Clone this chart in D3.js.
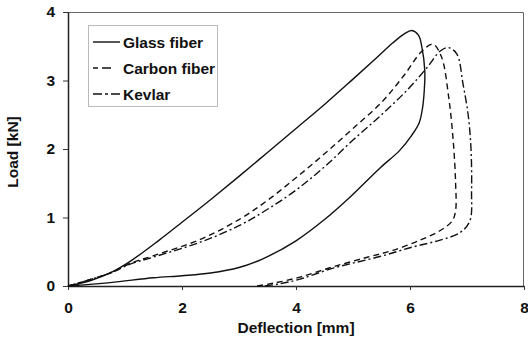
<!DOCTYPE html>
<html>
<head>
<meta charset="utf-8">
<script src="https://cdn.jsdelivr.net/npm/d3@7"></script>
<style>
	body { margin: 0; background: #fff; }
	svg text { font-family: "Liberation Sans", Arial, sans-serif; font-weight: bold; fill: #111; }
</style>
</head>
<body>
<svg id="chart" width="528" height="345"></svg>
<script>
;( function() {

	"use strict";

	//data, in mm / kN, ordered along each loop
	var glassDeflection = [ 0, 0.4, 0.74, 1.09, 1.6, 2.0, 2.5, 3.0, 3.5, 4.0, 4.5, 5.0, 5.4, 5.7, 5.9, 6.03, 6.15, 6.21, 6.26, 6.25, 6.22, 6.16, 6.03, 5.82, 5.47, 4.95, 4.5, 4.0, 3.4, 3.0, 2.5, 2.0, 1.5, 0.74, 0 ],
		glassLoad = [ 0, 0.08, 0.19, 0.36, 0.67, 0.93, 1.26, 1.6, 1.95, 2.3, 2.65, 3.02, 3.32, 3.55, 3.68, 3.73, 3.66, 3.48, 3.14, 2.85, 2.6, 2.38, 2.2, 1.98, 1.72, 1.3, 0.97, 0.66, 0.39, 0.27, 0.19, 0.15, 0.12, 0.05, 0 ];

	var carbonDeflection = [ 0, 0.74, 1.09, 1.49, 2.32, 3.0, 3.5, 4.0, 4.5, 5.0, 5.5, 5.9, 6.2, 6.4, 6.55, 6.68, 6.76, 6.8, 6.8, 6.74, 6.53, 6.18, 5.7, 5.25, 4.65, 4.07, 3.6, 3.3 ],
		carbonLoad = [ 0, 0.19, 0.33, 0.44, 0.68, 0.97, 1.25, 1.58, 1.93, 2.3, 2.68, 3.08, 3.42, 3.53, 3.35, 2.75, 2.1, 1.5, 1.1, 0.95, 0.81, 0.67, 0.52, 0.42, 0.28, 0.13, 0.04, 0 ];

	var kevlarDeflection = [ 0, 0.74, 1.09, 1.49, 2.32, 3.0, 3.5, 4.0, 4.5, 5.0, 5.5, 5.95, 6.3, 6.53, 6.67, 6.82, 6.93, 7.02, 7.07, 7.08, 7.05, 6.88, 6.53, 6.05, 5.47, 4.65, 4.07, 3.7, 3.45 ],
		kevlarLoad = [ 0, 0.19, 0.32, 0.42, 0.64, 0.88, 1.12, 1.4, 1.74, 2.13, 2.5, 2.86, 3.19, 3.43, 3.48, 3.39, 2.95, 2.5, 2.0, 1.4, 0.95, 0.78, 0.67, 0.57, 0.43, 0.26, 0.1, 0.03, 0 ];

	var seriesNames = [ "Glass fiber", "Carbon fiber", "Kevlar" ],
		xTicks = [ 0, 2, 4, 6, 8 ],
		yTicks = [ 0, 1, 2, 3, 4 ];

	var zip = function( xs, ys ) {
		return xs.map( function( d, i ) { return [ d, ys[ i ] ]; } );
	};

	var series = [
		{ name: seriesNames[ 0 ], points: zip( glassDeflection, glassLoad ), dash: null, legendDash: null },
		{ name: seriesNames[ 1 ], points: zip( carbonDeflection, carbonLoad ), dash: "6,4", legendDash: "5,4,9,9" },
		{ name: seriesNames[ 2 ], points: zip( kevlarDeflection, kevlarLoad ), dash: "8,3,2,3", legendDash: "9,3,3,3" }
	];

	var margin = { top: 12, right: 4, bottom: 59, left: 68 },
		width = 528 - margin.left - margin.right,
		height = 345 - margin.top - margin.bottom,
		fontSize = 15.5;

	var svg = d3.select( "#chart" ),
		g = svg.append( "g" ).attr( "transform", "translate(" + margin.left + "," + margin.top + ")" );

	var x = d3.scaleLinear().domain( [ 0, 8 ] ).range( [ 0, width ] ),
		y = d3.scaleLinear().domain( [ 0, 4 ] ).range( [ height, 0 ] );

	//frame top + right
	g.append( "path" )
		.attr( "d", "M0,0.5H" + ( width - 0.5 ) + "V" + height )
		.attr( "fill", "none" )
		.attr( "stroke", "#666" )
		.attr( "stroke-width", 1 );

	var xAxis = g.append( "g" )
		.attr( "transform", "translate(0," + height + ")" )
		.call( d3.axisBottom( x ).tickValues( xTicks ).tickFormat( d3.format( "d" ) ).tickSize( 4 ).tickSizeOuter( 0 ).tickPadding( 12 ) );
	var yAxis = g.append( "g" )
		.call( d3.axisLeft( y ).tickValues( yTicks ).tickFormat( d3.format( "d" ) ).tickSize( 5 ).tickSizeOuter( 0 ).tickPadding( 8 ) );

	[ xAxis, yAxis ].forEach( function( a ) {
		a.select( ".domain" ).attr( "stroke", "#222" ).attr( "stroke-width", 1.5 );
		a.selectAll( ".tick line" ).attr( "stroke", "#333" );
		a.selectAll( ".tick text" )
			.attr( "font-family", "Liberation Sans, Arial, sans-serif" )
			.attr( "font-weight", "bold" )
			.attr( "font-size", fontSize )
			.attr( "fill", "#111" );
	} );

	//curves
	var line = d3.line()
		.x( function( d ) { return x( d[ 0 ] ); } )
		.y( function( d ) { return y( d[ 1 ] ); } )
		.curve( d3.curveCatmullRom.alpha( 0.5 ) );

	g.selectAll( ".curve" )
		.data( series )
		.enter()
		.append( "path" )
			.attr( "class", "curve" )
			.attr( "d", function( d ) { return line( d.points ); } )
			.attr( "fill", "none" )
			.attr( "stroke", "#111" )
			.attr( "stroke-width", 1.4 )
			.attr( "stroke-dasharray", function( d ) { return d.dash; } );

	//axis titles
	svg.append( "text" )
		.attr( "x", margin.left + width / 2 )
		.attr( "y", 333 )
		.attr( "text-anchor", "middle" )
		.attr( "font-size", fontSize )
		.text( "Deflection [mm]" );
	svg.append( "text" )
		.attr( "transform", "translate(18,152) rotate(-90)" )
		.attr( "text-anchor", "middle" )
		.attr( "font-size", fontSize )
		.text( "Load [kN]" );

	//legend
	var legend = svg.append( "g" ).attr( "class", "legend" );
	legend.append( "rect" )
		.attr( "x", 88.5 ).attr( "y", 25.5 )
		.attr( "width", 129 ).attr( "height", 81 )
		.attr( "fill", "#fff" )
		.attr( "stroke", "#777" )
		.attr( "stroke-dasharray", "1,1" );

	var legendSteps = legend.selectAll( ".legend-step" )
		.data( series )
		.enter()
		.append( "g" )
			.attr( "class", "legend-step" )
			.attr( "transform", function( d, i ) { return "translate(93," + ( 42 + i * 26 ) + ")"; } );
	legendSteps.append( "line" )
		.attr( "x1", 0 ).attr( "x2", 27 )
		.attr( "stroke", "#111" )
		.attr( "stroke-width", 1.4 )
		.attr( "stroke-dasharray", function( d ) { return d.legendDash; } );
	legendSteps.append( "text" )
		.attr( "x", 30 ).attr( "y", 5.5 )
		.attr( "font-size", fontSize )
		.text( function( d ) { return d.name; } );

} )();
</script>
</body>
</html>
